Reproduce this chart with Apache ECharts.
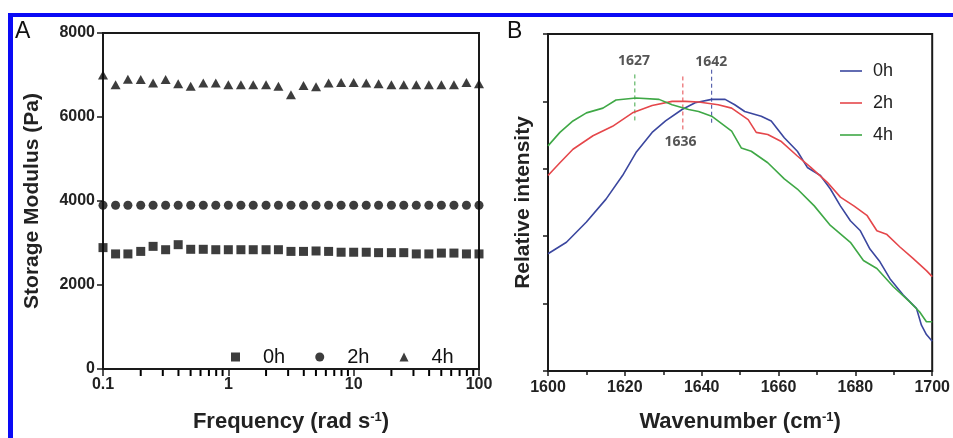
<!DOCTYPE html>
<html><head><meta charset="utf-8">
<script src="https://cdn.jsdelivr.net/npm/echarts@6/dist/echarts.min.js"></script>
<style>html,body{margin:0;padding:0;background:#fff}#c{width:953px;height:438px}</style>
</head><body><div id="c"></div>
<script>
// ---------- Panel A data ----------
const freq = [0.1,0.126,0.158,0.2,0.251,0.316,0.398,0.501,0.631,0.794,1,1.26,1.58,2,2.51,3.16,3.98,5.01,6.31,7.94,10,12.6,15.8,20,25.1,31.6,39.8,50.1,63.1,79.4,100];
const gA0h = [2890,2740,2740,2800,2920,2840,2960,2850,2850,2840,2840,2840,2840,2840,2840,2800,2800,2810,2800,2780,2780,2780,2770,2770,2770,2740,2740,2760,2760,2740,2740];
const gA2h = [3900,3900,3900,3900,3900,3900,3900,3900,3900,3900,3900,3900,3900,3900,3900,3900,3900,3900,3900,3900,3900,3900,3900,3900,3900,3900,3900,3900,3900,3900,3900];
const gA4h = [7000,6770,6900,6890,6810,6890,6790,6730,6810,6810,6770,6770,6770,6770,6730,6530,6750,6720,6810,6820,6820,6810,6790,6770,6770,6770,6770,6770,6770,6820,6790];
const seriesNamesA = ['0h','2h','4h'];
const yTicksA = [0,2000,4000,6000,8000];
const xMinorTicksA = [0.2,0.3,0.4,0.5,0.6,0.7,0.8,0.9,2,3,4,5,6,7,8,9,20,30,40,50,60,70,80,90];

// ---------- Panel B data ----------
const wn0h = [1600,1604.8,1610,1615.1,1619.4,1622.9,1627.1,1630.6,1634.9,1638.3,1642.6,1646.1,1648.6,1651.2,1655.5,1658.1,1661.5,1664.9,1667.5,1670.9,1673.5,1676.1,1678.7,1681.3,1683.8,1686.4,1689,1692.4,1695.9,1697.2,1698.5,1700];
const int0h = [1.74,1.91,2.21,2.55,2.90,3.24,3.54,3.71,3.88,3.98,4.03,4.03,3.95,3.85,3.78,3.71,3.46,3.26,3.02,2.90,2.70,2.45,2.23,2.08,1.81,1.62,1.37,1.13,0.93,0.68,0.54,0.44];
const wn2h = [1600,1603.1,1606.5,1611.7,1616.8,1622,1627.1,1632.3,1635.7,1639.2,1644.3,1647.8,1652.1,1654.2,1657.2,1660.6,1664.9,1668.4,1672.7,1676.1,1679.6,1683,1685.6,1688.1,1691.6,1695,1698.5,1700];
const int2h = [2.90,3.09,3.29,3.49,3.63,3.83,3.94,4.00,4.00,3.99,3.95,3.90,3.73,3.54,3.51,3.41,3.19,3.02,2.80,2.58,2.45,2.31,2.08,2.03,1.84,1.67,1.49,1.40];
const wn4h = [1600,1603.1,1606.5,1610,1614.3,1617.7,1622.9,1628.9,1632.3,1636.6,1639.2,1642.6,1647.8,1650.3,1652.9,1657.2,1661.5,1664.9,1669.3,1673.5,1678.7,1682.1,1685.6,1689.9,1694.1,1696.7,1698.5,1700];
const int4h = [3.34,3.54,3.71,3.83,3.90,4.02,4.05,4.03,3.95,3.88,3.85,3.78,3.56,3.31,3.26,3.09,2.85,2.70,2.45,2.16,1.91,1.64,1.52,1.25,1.03,0.88,0.73,0.73];
const seriesNamesB = ['0h','2h','4h'];
const colorsB = ['#3b479f','#e5474b','#3fa846'];
const peakLineWn = [1622.6,1635.1,1642.6];
const peakLineTop = [4.40,4.37,4.47];
const peakLineBottom = [3.70,3.55,3.67];
const peakLabels = ['1627','1636','1642'];
const peakLabelWn = [1622.4,1634.5,1642.5];
const peakLabelY = [4.60,3.39,4.59];
const peakColors = ['#3fa846','#e5474b','#3b479f'];

const FONT = 'Liberation Sans, Arial, sans-serif';
const AX = '#1a1a1a';

const chart = echarts.init(document.getElementById('c'), null, {renderer:'canvas'});

const zip = (a,b) => a.map((v,i)=>[v,b[i]]);

const series = [];
[gA0h,gA2h,gA4h].forEach((arr,i)=>{
  series.push({
    name: seriesNamesA[i], type:'scatter', xAxisIndex:0, yAxisIndex:0,
    symbol: ['rect','circle','triangle'][i],
    symbolSize: [9,9,[10,9]][i],
    itemStyle:{color:'#0d0d0d'},
    data: zip(freq, arr), z:5
  });
});
// minor ticks of the log axis, placed through the axis scale
series.push({
  name:'minorTicks', type:'scatter', xAxisIndex:0, yAxisIndex:0, silent:true, clip:false,
  symbol:'rect', symbolSize:[2,6], symbolOffset:[0,4],
  itemStyle:{color:'#000', opacity:1},
  data: xMinorTicksA.map(v=>[v,yTicksA[0]]), z:20
});
[[wn0h,int0h],[wn2h,int2h],[wn4h,int4h]].forEach((p,i)=>{
  series.push({
    name: seriesNamesB[i], type:'line', xAxisIndex:1, yAxisIndex:1,
    showSymbol:false, symbol:'none', smooth:false,
    lineStyle:{color:colorsB[i], width:1.6},
    itemStyle:{color:colorsB[i]},
    data: zip(p[0],p[1]), z:4
  });
});
peakLineWn.forEach((w,i)=>{
  series.push({
    type:'line', xAxisIndex:1, yAxisIndex:1, symbol:'none', silent:true,
    lineStyle:{color:peakColors[i], width:1, type:[4,3]},
    data:[[w,peakLineTop[i]],[w,peakLineBottom[i]]], z:3
  });
});
series.push({
  type:'scatter', xAxisIndex:1, yAxisIndex:1, symbolSize:0, silent:true,
  data: peakLabels.map((t,i)=>({value:[peakLabelWn[i],peakLabelY[i]], name:t})),
  label:{show:true, position:'inside', formatter:(p)=>p.name, fontSize:14, fontWeight:'bold', color:'#2a2a2a', fontFamily:'Open Sans, sans-serif'}
});

const supRich = {sup:{fontSize:13, fontWeight:'bold', color:'#222', verticalAlign:'top', padding:[0,0,8,0]}};

const option = {
  animation:false,
  backgroundColor:'#fff',
  textStyle:{fontFamily:FONT},
  grid:[
    {left:103, right:474, top:33, bottom:66, show:true, borderColor:AX, borderWidth:2, backgroundColor:'transparent'},
    {left:548, right:17, top:34, bottom:65, show:true, borderColor:AX, borderWidth:2, backgroundColor:'transparent'}
  ],
  legend:[
    {data:seriesNamesA, left:226, top:342, orient:'horizontal', itemWidth:9, itemHeight:9, itemGap:30,
     textStyle:{fontSize:20, color:'#111', fontFamily:FONT, padding:[0,0,0,18]}},
    {data:seriesNamesB.map((n,i)=>({name:n, icon:'rect', itemStyle:{color:colorsB[i]}})), left:835, top:57, orient:'vertical',
     itemWidth:22, itemHeight:2, itemGap:14, textStyle:{fontSize:18, color:'#222', fontFamily:FONT, padding:[0,0,0,6]}}
  ],
  xAxis:[
    {type:'log', logBase:10, gridIndex:0, min:0.1, max:100, position:'bottom',
     axisLine:{show:true, lineStyle:{color:AX, width:2}},
     axisTick:{show:true, length:7, lineStyle:{color:AX, width:1.5}},
     axisLabel:{fontSize:16, fontWeight:'bold', color:'#222', margin:8, formatter:(v)=>String(v)},
     splitLine:{show:false},
     name:'Frequency (rad s{sup|-1})', nameLocation:'middle', nameGap:42,
     nameTextStyle:{fontSize:22, fontWeight:'bold', color:'#222', rich:supRich}},
    {type:'value', gridIndex:1, min:1600, max:1700, interval:20, position:'bottom',
     axisLine:{show:true, lineStyle:{color:AX, width:2}},
     axisTick:{show:true, length:5, lineStyle:{color:AX, width:1.5}},
     minorTick:{show:true, splitNumber:2, length:4, lineStyle:{color:AX, width:1.5}},
     axisLabel:{fontSize:16, fontWeight:'bold', color:'#222', margin:9, formatter:(v)=>String(v)},
     splitLine:{show:false},
     name:'Wavenumber (cm{sup|-1})', nameLocation:'middle', nameGap:40,
     nameTextStyle:{fontSize:22, fontWeight:'bold', color:'#222', rich:supRich}}
  ],
  yAxis:[
    {type:'value', gridIndex:0, min:yTicksA[0], max:yTicksA[yTicksA.length-1], interval:2000,
     axisLine:{show:true, lineStyle:{color:AX, width:2}},
     axisTick:{show:true, length:6, lineStyle:{color:AX, width:1.5}},
     axisLabel:{fontSize:16, fontWeight:'bold', color:'#222', margin:8, formatter:(v)=>String(v)},
     splitLine:{show:false},
     name:'Storage Modulus (Pa)', nameLocation:'middle', nameGap:60,
     nameTextStyle:{fontSize:21, fontWeight:'bold', color:'#222'}},
    {type:'value', gridIndex:1, min:0, max:5, interval:1,
     axisLine:{show:true, lineStyle:{color:AX, width:2}},
     axisTick:{show:true, length:5, lineStyle:{color:AX, width:1.5}},
     axisLabel:{show:false}, splitLine:{show:false},
     name:'Relative intensity', nameLocation:'middle', nameGap:14,
     nameTextStyle:{fontSize:21, fontWeight:'bold', color:'#222'}}
  ],
  graphic:[
    {type:'rect', shape:{x:8, y:13, width:945, height:4}, style:{fill:'#0a0af5'}, z:100},
    {type:'rect', shape:{x:8, y:13, width:5, height:425}, style:{fill:'#0a0af5'}, z:100},
    {type:'text', left:15, top:20, style:{text:'A', fontSize:23, fill:'#111', fontFamily:FONT}},
    {type:'text', left:507, top:20, style:{text:'B', fontSize:23, fill:'#111', fontFamily:FONT}}
  ],
  series: series
};
chart.setOption(option);
</script></body></html>
